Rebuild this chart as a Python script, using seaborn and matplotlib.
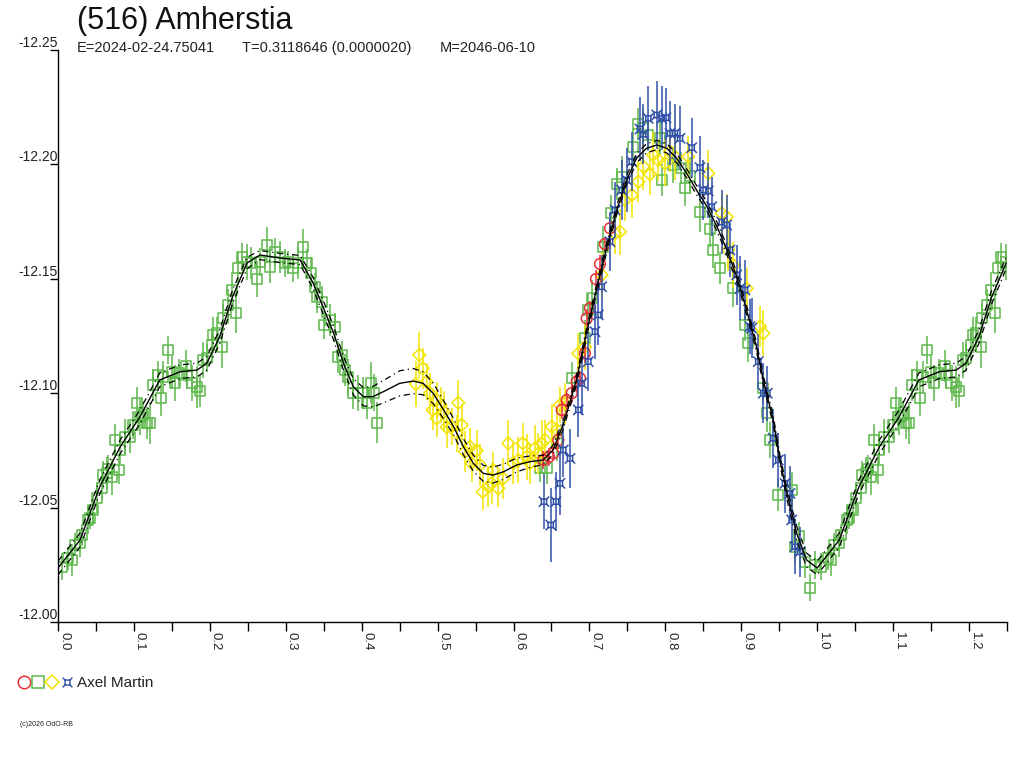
import numpy as np
import matplotlib
matplotlib.use("Agg")
import matplotlib.pyplot as plt
from matplotlib.path import Path
from matplotlib.lines import Line2D
from matplotlib.ticker import MultipleLocator, FuncFormatter
from matplotlib.legend_handler import HandlerTuple
import seaborn as sns

sns.set_theme(style="white")
plt.rcParams['font.family'] = ['Liberation Sans', 'DejaVu Sans']

# ---- fitted curve (phase 0..1) ----
curve_phase = [0.0, 0.029, 0.055, 0.082, 0.108, 0.134, 0.161, 0.183, 0.196, 0.213,
               0.230, 0.249, 0.266, 0.292, 0.319, 0.336, 0.349, 0.363, 0.376, 0.389,
               0.402, 0.415, 0.433, 0.450, 0.468, 0.481, 0.494, 0.508, 0.521, 0.534,
               0.547, 0.560, 0.573, 0.587, 0.604, 0.622, 0.639, 0.652, 0.666, 0.683,
               0.696, 0.710, 0.723, 0.736, 0.749, 0.762, 0.775, 0.789, 0.802, 0.815,
               0.828, 0.841, 0.855, 0.868, 0.881, 0.894, 0.907, 0.920, 0.929, 0.942,
               0.951, 0.960, 0.973, 0.986, 1.0]
curve_mag = [-12.0236, -12.0358, -12.0591, -12.0766, -12.0897, -12.1058, -12.1094, -12.1101, -12.1131, -12.1247,
             -12.1422, -12.1569, -12.1604, -12.1591, -12.1582, -12.1482, -12.1378, -12.1263, -12.1131, -12.1028,
             -12.0985, -12.0985, -12.1014, -12.1043, -12.1053, -12.1043, -12.1000, -12.0927, -12.0854, -12.0766,
             -12.0694, -12.0650, -12.0642, -12.0657, -12.0686, -12.0701, -12.0708, -12.0752, -12.0868, -12.1058,
             -12.1262, -12.1465, -12.1640, -12.1801, -12.1932, -12.2027, -12.2070, -12.2085, -12.2070, -12.2027,
             -12.1961, -12.1888, -12.1815, -12.1728, -12.1626, -12.1509, -12.1364, -12.1203, -12.1058, -12.0883,
             -12.0708, -12.0562, -12.0388, -12.0271, -12.0236]
# half width of the dash-dot band
curve_band = [0.003, 0.003, 0.003, 0.003, 0.003, 0.003, 0.003, 0.003, 0.003, 0.003,
              0.003, 0.0025, 0.002, 0.002, 0.002, 0.0025, 0.003, 0.003, 0.003, 0.0035,
              0.004, 0.0045, 0.005, 0.0055, 0.0055, 0.005, 0.0045, 0.004, 0.0035, 0.0035,
              0.0035, 0.0035, 0.0035, 0.0033, 0.003, 0.0025, 0.002, 0.002, 0.002, 0.002,
              0.002, 0.002, 0.002, 0.002, 0.002, 0.002, 0.002, 0.002, 0.002, 0.002,
              0.002, 0.002, 0.002, 0.002, 0.002, 0.002, 0.002, 0.002, 0.002, 0.002,
              0.002, 0.0025, 0.003, 0.003, 0.003]

# ---- observations: green squares ----
green_phase = [0.0049, 0.0136, 0.0188, 0.0224, 0.0290, 0.0312, 0.0399, 0.0421, 0.0465, 0.0510,
               0.0576, 0.0590, 0.0641, 0.0663, 0.0707, 0.0803, 0.0751, 0.0817, 0.0883, 0.0948,
               0.0992, 0.1037, 0.1080, 0.1124, 0.1168, 0.1212, 0.1255, 0.1313, 0.1353, 0.1387,
               0.1445, 0.1498, 0.1541, 0.1598, 0.1682, 0.1695, 0.1769, 0.1827, 0.1870, 0.1914,
               0.1959, 0.2024, 0.2046, 0.2090, 0.2156, 0.2177, 0.2243, 0.2288, 0.2345, 0.2375,
               0.2420, 0.2486, 0.2542, 0.2617, 0.2661, 0.2749, 0.2792, 0.2858, 0.2924, 0.2990,
               0.3033, 0.3099, 0.3165, 0.3231, 0.3276, 0.3329, 0.3385, 0.3408, 0.3473, 0.3504,
               0.3583, 0.3649, 0.3692, 0.3745, 0.3780, 0.3824, 0.3890, 0.3955, 0.4021, 0.4066,
               0.4119, 0.4162, 0.4206,
               0.6349, 0.6437, 0.6569, 0.6766, 0.6941, 0.6985, 0.7030, 0.7175, 0.7280, 0.7359,
               0.7425, 0.7578, 0.7644, 0.7709, 0.7775, 0.7929, 0.7952, 0.8105, 0.8202, 0.8259,
               0.8325, 0.8456, 0.8588, 0.8632, 0.8720, 0.8895, 0.9049, 0.9093, 0.9290, 0.9335,
               0.9378, 0.9480, 0.9664, 0.9708, 0.9760, 0.9839, 0.9905, 0.9971]
green_mag = [-12.0242, -12.0278, -12.0271, -12.0337, -12.0345, -12.0380, -12.0446, -12.0455, -12.0490, -12.0542,
             -12.0586, -12.0642, -12.0651, -12.0669, -12.0634, -12.0664, -12.0795, -12.0752, -12.0809, -12.0809,
             -12.0861, -12.0957, -12.0896, -12.0905, -12.0870, -12.0870, -12.1036, -12.1080, -12.0979, -12.1071,
             -12.1189, -12.1093, -12.1045, -12.1088, -12.1119, -12.1080, -12.1045, -12.1027, -12.1010, -12.1145,
             -12.1154, -12.1211, -12.1254, -12.1263, -12.1202, -12.1329, -12.1385, -12.1451, -12.1351, -12.1547,
             -12.1595, -12.1573, -12.1569, -12.1499, -12.1573, -12.1648, -12.1552, -12.1617, -12.1595, -12.1569,
             -12.1573, -12.1547, -12.1569, -12.1639, -12.1569, -12.1525, -12.1464, -12.1420, -12.1399, -12.1298,
             -12.1320, -12.1289, -12.1158, -12.1167, -12.1101, -12.1071, -12.1001, -12.1001, -12.1001, -12.0957,
             -12.1045, -12.1002, -12.0871,
             -12.0672, -12.0672, -12.0782, -12.1066, -12.1241, -12.1364, -12.1416, -12.1640, -12.1786, -12.1914,
             -12.1945, -12.2077, -12.2175, -12.2160, -12.2128, -12.2117, -12.1932, -12.1997, -12.1983, -12.1898,
             -12.1951, -12.1793, -12.1718, -12.1626, -12.1549, -12.1458, -12.1298, -12.1218, -12.1021, -12.0912,
             -12.0795, -12.0555, -12.0577, -12.0329, -12.0376, -12.0264, -12.0150, -12.0249]
green_err = [0.006, 0.005, 0.007, 0.005, 0.006, 0.005, 0.006, 0.005, 0.006, 0.007,
             0.005, 0.006, 0.007, 0.006, 0.008, 0.006, 0.007, 0.006, 0.008, 0.007,
             0.006, 0.007, 0.008, 0.006, 0.007, 0.009, 0.007, 0.006, 0.008, 0.007,
             0.006, 0.007, 0.008, 0.006, 0.007, 0.006, 0.008, 0.009, 0.007, 0.008,
             0.006, 0.007, 0.008, 0.007, 0.009, 0.006, 0.007, 0.008, 0.009, 0.007,
             0.006, 0.008, 0.007, 0.008, 0.006, 0.008, 0.007, 0.006, 0.007, 0.006,
             0.005, 0.006, 0.007, 0.008, 0.006, 0.007, 0.006, 0.007, 0.007, 0.006,
             0.007, 0.006, 0.007, 0.006, 0.007, 0.008, 0.007, 0.008, 0.007, 0.007,
             0.009, 0.008, 0.009,
             0.006, 0.007, 0.008, 0.007, 0.008, 0.007, 0.008, 0.009, 0.008, 0.007,
             0.009, 0.008, 0.007, 0.008, 0.007, 0.008, 0.007, 0.008, 0.007, 0.008,
             0.008, 0.009, 0.008, 0.008, 0.007, 0.008, 0.007, 0.008, 0.007, 0.008,
             0.008, 0.007, 0.008, 0.007, 0.006, 0.007, 0.006, 0.006]

# ---- yellow diamonds ----
yellow_phase = [0.4759, 0.4804, 0.4715, 0.4856, 0.4900, 0.4988, 0.4935, 0.5041, 0.5084, 0.5273,
                0.4988, 0.5120, 0.5186, 0.5317, 0.5252, 0.5361, 0.5427, 0.5515, 0.5449, 0.5558,
                0.5594, 0.5668, 0.5734, 0.5713, 0.5800, 0.5865, 0.5931, 0.5997, 0.6063, 0.6121,
                0.6174, 0.6217, 0.6283, 0.6326, 0.6371, 0.6415, 0.6503, 0.6569, 0.6612, 0.6678,
                0.6853, 0.6941, 0.7161, 0.7337, 0.7403, 0.7468, 0.7557, 0.7644, 0.7709, 0.7798,
                0.7841, 0.7907, 0.7995, 0.8061, 0.8127, 0.8302, 0.8566, 0.8742, 0.8808, 0.8829,
                0.8895, 0.9071, 0.9247, 0.9290]
yellow_mag = [-12.1167, -12.1109, -12.1040, -12.1050, -12.1000, -12.0970, -12.0927, -12.0948, -12.0919, -12.0958,
              -12.0890, -12.0851, -12.0854, -12.0861, -12.0825, -12.0744, -12.0766, -12.0749, -12.0694, -12.0686,
              -12.0569, -12.0591, -12.0664, -12.0606, -12.0584, -12.0628, -12.0781, -12.0694, -12.0708, -12.0781,
              -12.0722, -12.0694, -12.0759, -12.0737, -12.0781, -12.0795, -12.0854, -12.0839, -12.0948, -12.0956,
              -12.1174, -12.1203, -12.1517, -12.1699, -12.1706, -12.1844, -12.1866, -12.1924, -12.1990, -12.1957,
              -12.2041, -12.2019, -12.2005, -12.2056, -12.2034, -12.2034, -12.1961, -12.1786, -12.1771, -12.1626,
              -12.1560, -12.1458, -12.1291, -12.1262]
yellow_err = [0.010, 0.009, 0.010, 0.008, 0.009, 0.008, 0.009, 0.008, 0.009, 0.010,
              0.008, 0.009, 0.008, 0.009, 0.008, 0.009, 0.008, 0.009, 0.008, 0.009,
              0.008, 0.009, 0.008, 0.009, 0.008, 0.009, 0.010, 0.009, 0.010, 0.009,
              0.010, 0.009, 0.010, 0.009, 0.010, 0.009, 0.010, 0.009, 0.008, 0.009,
              0.009, 0.010, 0.010, 0.009, 0.010, 0.009, 0.010, 0.009, 0.010, 0.009,
              0.010, 0.009, 0.010, 0.009, 0.010, 0.009, 0.010, 0.009, 0.010, 0.009,
              0.010, 0.009, 0.009, 0.010]

# ---- red circles ----
red_phase = [0.6392, 0.6467, 0.6524, 0.6590, 0.6635, 0.6701, 0.6766, 0.6832, 0.6876, 0.6941,
             0.6964, 0.7007, 0.7086, 0.7139, 0.7205, 0.7271]
red_mag = [-12.0708, -12.0722, -12.0737, -12.0795, -12.0927, -12.0970, -12.1000, -12.1050, -12.1065, -12.1174,
           -12.1327, -12.1371, -12.1499, -12.1565, -12.1652, -12.1721]
red_err = [0.004, 0.004, 0.003, 0.004, 0.004, 0.003, 0.004, 0.004, 0.003, 0.004,
           0.004, 0.003, 0.004, 0.004, 0.003, 0.004]

# ---- blue stars ----
blue_phase = [0.6401, 0.6560, 0.6490, 0.6612, 0.6656, 0.6744, 0.6853, 0.6898, 0.6985, 0.7073,
              0.7117, 0.7161, 0.7271, 0.7337, 0.7425, 0.7491, 0.7557, 0.7666, 0.7709, 0.7775,
              0.7886, 0.7952, 0.8008, 0.8061, 0.8127, 0.8193, 0.8347, 0.8456, 0.8500, 0.8566,
              0.8610, 0.8742, 0.8808, 0.8851, 0.8940, 0.8983, 0.9049, 0.9115, 0.9137, 0.9224,
              0.9290, 0.9343, 0.9422, 0.9488, 0.9576, 0.9642, 0.9664, 0.9708, 0.9773]
blue_mag = [-12.0526, -12.0526, -12.0424, -12.0606, -12.0752, -12.0715, -12.0927, -12.1043, -12.1138, -12.1269,
            -12.1342, -12.1465, -12.1662, -12.1801, -12.1888, -12.1932, -12.2012, -12.2155, -12.2132, -12.2201,
            -12.2216, -12.2201, -12.2204, -12.2136, -12.2136, -12.2114, -12.2073, -12.1986, -12.1888, -12.1884,
            -12.1815, -12.1748, -12.1735, -12.1626, -12.1517, -12.1458, -12.1451, -12.1291, -12.1284, -12.1138,
            -12.1000, -12.1000, -12.0803, -12.0708, -12.0606, -12.0562, -12.0446, -12.0329, -12.0307]
blue_err = [0.012, 0.013, 0.016, 0.014, 0.012, 0.013, 0.012, 0.014, 0.013, 0.012,
            0.013, 0.014, 0.013, 0.012, 0.013, 0.014, 0.013, 0.014, 0.013, 0.014,
            0.015, 0.014, 0.013, 0.014, 0.013, 0.014, 0.013, 0.014, 0.013, 0.012,
            0.013, 0.014, 0.013, 0.012, 0.013, 0.014, 0.013, 0.012, 0.013, 0.012,
            0.013, 0.012, 0.013, 0.012, 0.013, 0.012, 0.013, 0.012, 0.011]

COL_GREEN = '#5cb84a'
COL_YELLOW = '#f2e400'
COL_RED = '#e8303a'
COL_BLUE = '#3050a8'

# blue marker: small box with diagonal spokes
star_verts = [(-0.5, -0.5), (0.5, -0.5), (0.5, 0.5), (-0.5, 0.5), (-0.5, -0.5),
              (-1, -1), (-0.5, -0.5), (1, 1), (0.5, 0.5),
              (-1, 1), (-0.5, 0.5), (1, -1), (0.5, -0.5)]
star_codes = [Path.MOVETO, Path.LINETO, Path.LINETO, Path.LINETO, Path.CLOSEPOLY,
              Path.MOVETO, Path.LINETO, Path.MOVETO, Path.LINETO,
              Path.MOVETO, Path.LINETO, Path.MOVETO, Path.LINETO]
star_marker = Path(star_verts, star_codes)
DASHDOT = (0, (5, 3, 1, 3))


def fold(ph, mg, er=None):
    # the light curve repeats phases 0..0.25 after 1.0
    ph = np.asarray(ph, float)
    mg = np.asarray(mg, float)
    sel = ph <= 0.25
    x = np.concatenate([ph, ph[sel] + 1.0])
    y = np.concatenate([mg, mg[sel]])
    if er is None:
        return x, y
    er = np.asarray(er, float)
    return x, y, np.concatenate([er, er[sel]])


fig = plt.figure(figsize=(10.24, 7.68), dpi=100)
ax = fig.add_axes([58 / 1024, 1 - 622 / 768, 949 / 1024, 572 / 768])

series = [
    (green_phase, green_mag, green_err, COL_GREEN, 's', 52),
    (yellow_phase, yellow_mag, yellow_err, COL_YELLOW, 'D', 42),
    (red_phase, red_mag, red_err, COL_RED, 'o', 60),
    (blue_phase, blue_mag, blue_err, COL_BLUE, star_marker, 55),
]
for z, (ph, mg, er, col, mk, sz) in enumerate(series):
    x, y, e = fold(ph, mg, er)
    ax.errorbar(x, y, yerr=e, fmt='none', ecolor=col, elinewidth=1.1, capsize=0, zorder=2 + z)
    sns.scatterplot(x=x, y=y, ax=ax, marker=mk, s=sz, facecolor='none', edgecolor=col,
                    linewidth=1.1, zorder=2 + z, legend=False)

# fitted curve and its band
cx, cy = fold(curve_phase, curve_mag)
band = np.concatenate([np.asarray(curve_band), np.asarray(curve_band)[np.asarray(curve_phase) <= 0.25]])
order = np.argsort(cx, kind='stable')
cx, cy, band = cx[order], cy[order], band[order]
keep = np.concatenate([[True], np.diff(cx) > 1e-9])
cx, cy, band = cx[keep], cy[keep], band[keep]
sns.lineplot(x=cx, y=cy, ax=ax, color='black', lw=1.0, sort=False, estimator=None, zorder=10)
sns.lineplot(x=cx, y=cy - band, ax=ax, color='black', lw=0.9, sort=False, estimator=None,
             zorder=10, linestyle=DASHDOT)
sns.lineplot(x=cx, y=cy + band, ax=ax, color='black', lw=0.9, sort=False, estimator=None,
             zorder=10, linestyle=DASHDOT)

ax.set_xlim(0, 1.25)
ax.set_ylim(-12.0, -12.25)
ax.set_xlabel('')
ax.set_ylabel('')
ax.grid(False)
for s in ['top', 'right']:
    ax.spines[s].set_visible(False)
for s in ['left', 'bottom']:
    ax.spines[s].set_color('black')
    ax.spines[s].set_linewidth(1.0)

ax.xaxis.set_major_locator(MultipleLocator(0.05))
ax.xaxis.set_major_formatter(FuncFormatter(
    lambda v, p: f'{v:.1f}' if abs(v * 10 - round(v * 10)) < 1e-6 else ''))
ax.yaxis.set_major_locator(MultipleLocator(0.05))
ax.yaxis.set_major_formatter(FuncFormatter(lambda v, p: f'{v:.2f}'))
ax.tick_params(axis='x', direction='out', length=6.5, width=1, color='black', pad=1,
               labelsize=9.5, labelcolor='#222222', bottom=True)
ax.tick_params(axis='y', direction='out', length=6, width=1, color='black', pad=-6,
               labelsize=10, labelcolor='#222222', left=True)
for lab in ax.get_xticklabels():
    lab.set_rotation(270)
    lab.set_ha('left')
    lab.set_va('top')
for lab in ax.get_yticklabels():
    lab.set_va('bottom')

# header
fig.text(77 / 1024, 1 - 21 / 768, '(516) Amherstia', fontsize=22, va='center', ha='left', color='#111111')
fig.text(77 / 1024, 1 - 48 / 768, 'E=2024-02-24.75041', fontsize=10.5, va='center', ha='left', color='#222222')
fig.text(242 / 1024, 1 - 48 / 768, 'T=0.3118646 (0.0000020)', fontsize=10.5, va='center', ha='left', color='#222222')
fig.text(440 / 1024, 1 - 48 / 768, 'M=2046-06-10', fontsize=10.5, va='center', ha='left', color='#222222')

# observer legend
handles = (
    Line2D([], [], ls='none', marker='o', ms=9, mfc='none', mec=COL_RED, mew=1.1),
    Line2D([], [], ls='none', marker='s', ms=8, mfc='none', mec=COL_GREEN, mew=1.1),
    Line2D([], [], ls='none', marker='D', ms=7.5, mfc='none', mec=COL_YELLOW, mew=1.1),
    Line2D([], [], ls='none', marker=star_marker, ms=7, mfc='none', mec=COL_BLUE, mew=1.0),
)
fig.legend([handles], ['Axel Martin'], handler_map={tuple: HandlerTuple(ndivide=None, pad=0.15)},
           loc='center left', bbox_to_anchor=(10 / 1024, 1 - 683 / 768), frameon=False,
           fontsize=11, handlelength=3.6, handletextpad=0.3, borderpad=0, labelcolor='#222222')

fig.text(20 / 1024, 1 - 725 / 768, '(c)2026 OdO-RB', fontsize=5, va='center', ha='left', color='#222222')

fig.savefig('out.png', dpi=100)
